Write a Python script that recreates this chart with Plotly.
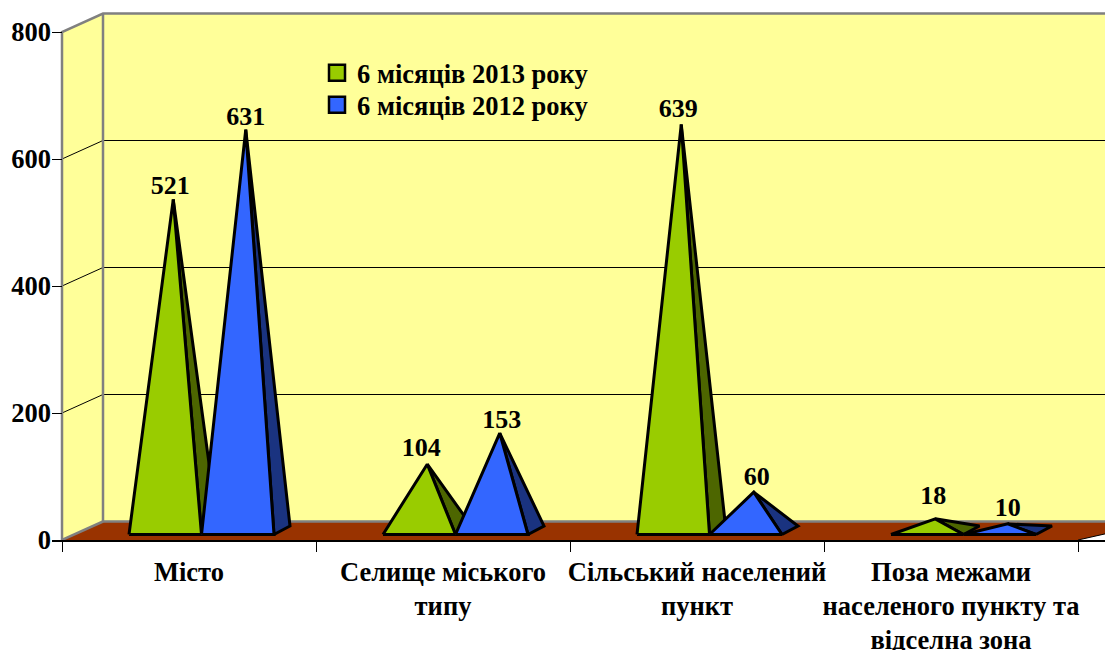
import plotly.graph_objects as go

categories = ["Місто", "Селище міського<br>типу", "Сільський населений<br>пункт",
              "Поза межами<br>населеного пункту та<br>відселна зона"]
series_names = ["6 місяців 2013 року", "6 місяців 2012 року"]
values_2013 = [521, 104, 639, 18]
values_2012 = [631, 153, 60, 10]
y_ticks = [0, 200, 400, 600, 800]

# small pixel nudges of the data labels (style only)
label_dx_2013 = [-3, -6, -3, -2]
label_dy_2013 = [-1, 2, 1, 8]
label_dx_2012 = [0, 2, 3, 0]
label_dy_2012 = [-2, -1, 1, 1]

# layout scale: px per unit
PX_X = 254.0
PX_Y = 0.635
L, T, B = 52, 8, 110
W, H = 1105, 650
plot_w, plot_h = W - L, H - T - B
x_range = [-(62 - L) / PX_X, (W - 62) / PX_X]
y_range = [0, plot_h / PX_Y]

# 3D look offsets in data units
wall_dx = 41 / PX_X
wall_dy = 18.5 / PX_Y
base_y = 5.5 / PX_Y
depth_dx = 16 / PX_X
depth_dy = 8.5 / PX_Y
bar_w = 72.5 / PX_X
bar_start = 67 / PX_X

FONT = "Liberation Serif"
WALL = "#FFFF99"
FLOOR = "#993300"
EDGE = "#808080"


def poly(xs, ys, fill, line, width, mode="lines"):
    return go.Scatter(x=xs, y=ys, mode=mode, fill="toself", fillcolor=fill,
                      line=dict(color=line, width=width), hoverinfo="skip",
                      showlegend=False)


def seg(xs, ys, color, width):
    return go.Scatter(x=xs, y=ys, mode="lines", line=dict(color=color, width=width),
                      hoverinfo="skip", showlegend=False)


n = len(categories)
far = n + 2 * wall_dx
top = 800 + wall_dy

fig = go.Figure()
# walls and floor
fig.add_trace(poly([wall_dx, far, far, wall_dx, wall_dx], [wall_dy, wall_dy, top, top, wall_dy], WALL, WALL, 0))
fig.add_trace(poly([0, wall_dx, wall_dx, 0, 0], [0, wall_dy, top, 800, 0], WALL, WALL, 0))
fig.add_trace(poly([0, wall_dx, far, n, 0], [0, wall_dy, wall_dy, 0, 0], FLOOR, FLOOR, 0))
# gridlines
for v in y_ticks[1:-1]:
    fig.add_trace(seg([0, wall_dx, far], [v, v + wall_dy, v + wall_dy], "black", 1))
# wall frame
fig.add_trace(seg([0, 0, wall_dx, far], [0, 800, top, top], EDGE, 2.5))
fig.add_trace(seg([wall_dx, wall_dx, far], [top, wall_dy, wall_dy], EDGE, 2.5))
fig.add_trace(seg([0, wall_dx], [0, wall_dy], EDGE, 2.5))
fig.add_trace(seg([n, far], [0, wall_dy], "black", 1))


def faces(vals, offset):
    fx, fy, sx, sy, ax, ay = [], [], [], [], [], []
    for i, v in enumerate(vals):
        x0 = i + bar_start + offset * bar_w
        x1 = x0 + bar_w
        apx = (x0 + x1) / 2 + depth_dx / 2
        apy = base_y + depth_dy / 2 + v
        fx += [x0, x1, apx, x0, None]
        fy += [base_y, base_y, apy, base_y, None]
        sx += [x1, x1 + depth_dx, apx, x1, None]
        sy += [base_y, base_y + depth_dy, apy, base_y, None]
        ax.append(apx)
        ay.append(apy)
    return fx, fy, sx, sy, ax, ay


for offset, vals, name, front, side, ldx, ldy, legend_id in [
    (0, values_2013, series_names[0], "#99CC00", "#4D6600", label_dx_2013, label_dy_2013, "legend"),
    (1, values_2012, series_names[1], "#3366FF", "#1A3380", label_dx_2012, label_dy_2012, "legend2"),
]:
    fx, fy, sx, sy, ax, ay = faces(vals, offset)
    fig.add_trace(poly(sx, sy, side, "black", 3))
    fig.add_trace(poly(fx, fy, front, "black", 3))
    fig.add_trace(go.Scatter(x=[a + d / PX_X for a, d in zip(ax, ldx)],
                             y=[a + d / PX_Y for a, d in zip(ay, ldy)],
                             mode="text", text=[str(v) for v in vals],
                             textposition="top center", hoverinfo="skip", showlegend=False,
                             cliponaxis=False,
                             textfont=dict(family=FONT, size=26, color="black", weight=700)))
    fig.add_trace(go.Scatter(x=[None], y=[None], mode="markers", name=name, legend=legend_id,
                             marker=dict(symbol="square", size=16, color=front,
                                         line=dict(color="black", width=2.5))))

legend_common = dict(x=(317 - L) / plot_w, xanchor="left", yanchor="middle", bgcolor="rgba(0,0,0,0)",
                     font=dict(family=FONT, size=26.5, weight=700))

fig.update_layout(
    width=W, height=H,
    margin=dict(l=L, r=0, t=T, b=B, pad=0),
    paper_bgcolor="white", plot_bgcolor="white",
    font=dict(family=FONT, size=26, color="black", weight=700),
    legend=dict(y=(H - B - 73) / plot_h, **legend_common),
    legend2=dict(y=(H - B - 105) / plot_h, **legend_common),
    xaxis=dict(range=x_range, tickmode="array", tickvals=[i + 0.5 for i in range(n)],
               ticktext=categories, ticks="outside", ticklen=7, tickcolor="rgba(0,0,0,0)",
               tickangle=0, automargin=False,
               showgrid=False, zeroline=False, showline=True, linecolor="black", linewidth=1.5,
               tickfont=dict(family=FONT, size=26.5, weight=700, color="black"),
               minor=dict(tickmode="array", tickvals=list(range(n + 1)), ticks="outside", ticklen=10,
                          tickcolor="black", tickwidth=1, showgrid=False)),
    yaxis=dict(range=y_range, tickmode="array", tickvals=y_ticks, ticks="inside", ticklen=10,
               automargin=False,
               tickcolor="black", tickwidth=1, showgrid=False, zeroline=False, showline=False,
               tickfont=dict(family=FONT, size=26.5, weight=700, color="black")),
)
fig.write_html("out.html", config=dict(displayModeBar=False),
               post_script="document.body.style.margin='0';")
